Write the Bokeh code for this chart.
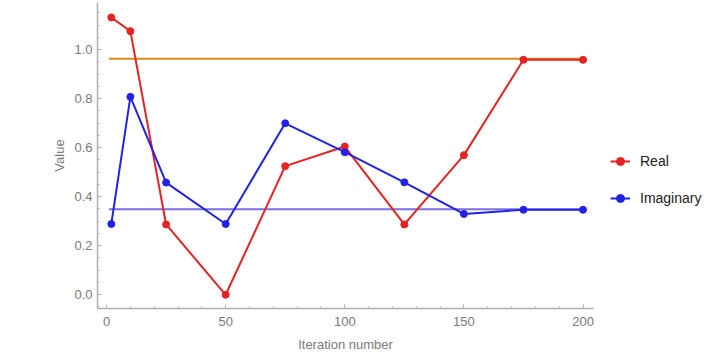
from bokeh.plotting import figure
from bokeh.layouts import row
from bokeh.models import Range1d, Legend, LegendItem, FixedTicker, PrintfTickFormatter
from bokeh.embed import file_html
from bokeh.resources import INLINE

iterations = [2, 10, 25, 50, 75, 100, 125, 150, 175, 200]
real_vals = [1.131, 1.075, 0.286, -0.001, 0.524, 0.604, 0.286, 0.569, 0.958, 0.958]
imag_vals = [0.288, 0.807, 0.457, 0.288, 0.699, 0.581, 0.458, 0.329, 0.346, 0.346]
ref_x = [1, 200]
real_ref = 0.962
imag_ref = 0.348
x_ticks = [0, 50, 100, 150, 200]
y_ticks = [0.0, 0.2, 0.4, 0.6, 0.8, 1.0]
series_names = ["Real", "Imaginary"]

FONT = "Liberation Sans"
GRAY = "#7a7a7a"
RED = "#e62222"
BLUE = "#2222e6"

p = figure(width=600, height=354, output_backend="svg", toolbar_location=None,
           x_range=Range1d(-3.8, 204.4), y_range=Range1d(-0.057, 1.192),
           min_border_left=97, min_border_right=7, min_border_top=2, min_border_bottom=0)
p.outline_line_color = None
p.grid.grid_line_color = None
p.background_fill_color = "white"

p.line(ref_x, [real_ref, real_ref], line_color="#e08a1a", line_width=2)
p.line(ref_x, [imag_ref, imag_ref], line_color="#7b6ee6", line_width=2)

p.line(iterations, real_vals, line_color=RED, line_width=2)
p.scatter(iterations, real_vals, size=7, fill_color=RED, line_color=RED)
p.line(iterations, imag_vals, line_color=BLUE, line_width=2)
p.scatter(iterations, imag_vals, size=7, fill_color=BLUE, line_color=BLUE)

for ax in (p.xaxis[0], p.yaxis[0]):
    ax.axis_line_color = "#b0b0b0"
    ax.axis_line_width = 1.5
    ax.major_tick_line_color = "#b0b0b0"
    ax.minor_tick_line_color = "#b0b0b0"
    ax.major_tick_in = 4
    ax.major_tick_out = 0
    ax.minor_tick_in = 2
    ax.minor_tick_out = 0
    ax.major_label_text_font = FONT
    ax.major_label_text_font_size = "13px"
    ax.major_label_text_color = GRAY
    ax.axis_label_text_font = FONT
    ax.axis_label_text_font_size = "13px"
    ax.axis_label_text_color = GRAY
    ax.axis_label_text_font_style = "normal"

p.xaxis.ticker = FixedTicker(ticks=x_ticks, minor_ticks=list(range(0, 201, 10)))
p.yaxis.ticker = FixedTicker(ticks=y_ticks, minor_ticks=[round(0.05 * k, 2) for k in range(-1, 24)])
p.yaxis.formatter = PrintfTickFormatter(format="%.1f")
p.xaxis.axis_label = "Iteration number"
p.yaxis.axis_label = "Value"
p.xaxis.major_label_standoff = 8
p.xaxis.axis_label_standoff = 8
p.yaxis.major_label_standoff = 5
p.yaxis.axis_label_standoff = 4

# legend panel (its sample glyphs sit outside its visible range)
lg = figure(width=108, height=354, output_backend="svg", toolbar_location=None,
            x_axis_type=None, y_axis_type=None, x_range=Range1d(0, 1), y_range=Range1d(0, 1),
            min_border_left=0, min_border_right=0, min_border_top=0, min_border_bottom=0)
lg.outline_line_color = None
lg.grid.grid_line_color = None
items = []
for name, col in zip(series_names, [RED, BLUE]):
    l = lg.line([-5, -4], [-5, -4], line_color=col, line_width=2)
    s = lg.scatter([-5], [-5], size=7, fill_color=col, line_color=col)
    items.append(LegendItem(label=name, renderers=[l, s]))
legend = Legend(items=items, location=(10, 100))
legend.border_line_color = None
legend.background_fill_alpha = 0
legend.margin = 0
legend.padding = 0
legend.spacing = 17
legend.glyph_width = 20
legend.glyph_height = 20
legend.label_height = 20
legend.label_standoff = 10
legend.label_text_font = FONT
legend.label_text_font_size = "14px"
legend.label_text_color = "#222222"
lg.add_layout(legend, "center")

layout = row(p, lg)
open("out.html", "w").write(file_html(layout, INLINE))
